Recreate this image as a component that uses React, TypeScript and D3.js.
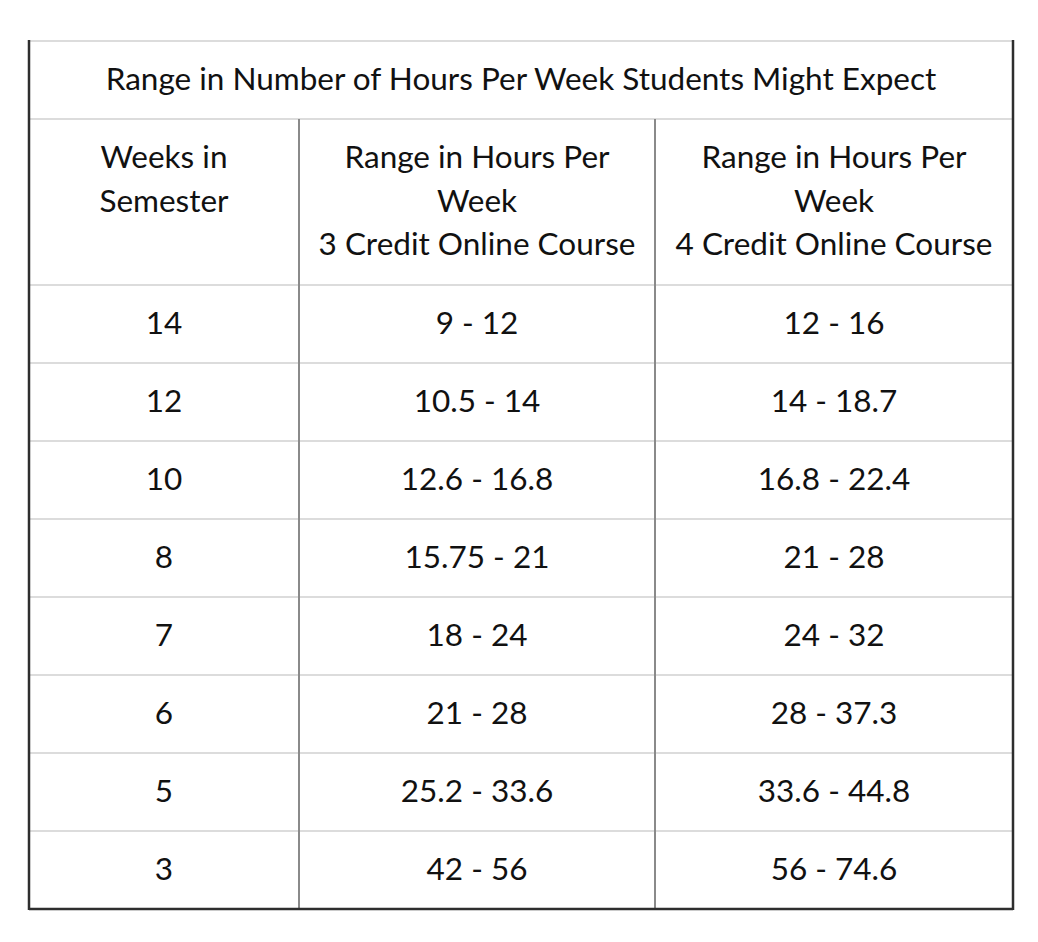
import React from "react";
import * as d3 from "d3";

const title = "Range in Number of Hours Per Week Students Might Expect";
const headers: string[][] = [
  ["Weeks in", "Semester"],
  ["Range in Hours Per", "Week", "3 Credit Online Course"],
  ["Range in Hours Per", "Week", "4 Credit Online Course"],
];
const weeks = ["14", "12", "10", "8", "7", "6", "5", "3"];
const range3 = ["9 - 12", "10.5 - 14", "12.6 - 16.8", "15.75 - 21", "18 - 24", "21 - 28", "25.2 - 33.6", "42 - 56"];
const range4 = ["12 - 16", "14 - 18.7", "16.8 - 22.4", "21 - 28", "24 - 32", "28 - 37.3", "33.6 - 44.8", "56 - 74.6"];

const W = 1038, H = 942;
const left = 29, right = 1013;
const top = 41, titleBottom = 119, headerBottom = 285, bottom = 909;
const colEdges = [left, 299, 655, right];
const FONT = "Lato, 'Open Sans', sans-serif";
const FS = 31.5;

export default function App() {
  const rowY = d3.scaleBand<number>().domain(d3.range(weeks.length)).range([headerBottom, bottom]);
  const colX = (i: number) => (colEdges[i] + colEdges[i + 1]) / 2;
  const cols = [weeks, range3, range4];
  const lineH = 43.5;
  const dy = -2;
  return (
    <svg width={W} height={H} style={{ position: "absolute", left: 0, top: 0, background: "#fff" }}>
      <rect x={0} y={0} width={W} height={H} fill="#fff" />
      {[top, titleBottom, headerBottom, ...weeks.slice(1).map((_, i) => rowY(i + 1)!)].map((y, i) => (
        <line key={"h" + i} x1={left} x2={right} y1={y} y2={y} stroke="#dcdcdc" strokeWidth={2} />
      ))}
      {colEdges.slice(1, 3).map((x, i) => (
        <line key={"v" + i} x1={x} x2={x} y1={titleBottom} y2={bottom} stroke="#8a8a8a" strokeWidth={2} />
      ))}
      <line x1={left} x2={left} y1={top - 1} y2={bottom + 1} stroke="#2e2e2e" strokeWidth={2.5} />
      <line x1={right} x2={right} y1={top - 1} y2={bottom + 1} stroke="#2e2e2e" strokeWidth={2.5} />
      <line x1={left} x2={right} y1={bottom} y2={bottom} stroke="#2e2e2e" strokeWidth={2.5} />
      <g fontFamily={FONT} fontSize={FS} fill="#111" textAnchor="middle">
        <text x={(left + right) / 2} y={(top + titleBottom) / 2 + dy} dominantBaseline="central">{title}</text>
        {headers.map((lines, c) =>
          lines.map((t, k) => (
            <text key={c + "-" + k} x={colX(c)} y={158 + dy + k * lineH} dominantBaseline="central">{t}</text>
          ))
        )}
        {cols.map((col, c) =>
          col.map((t, r) => (
            <text key={"d" + c + "-" + r} x={colX(c)} y={rowY(r)! + rowY.bandwidth() / 2 + dy} dominantBaseline="central">{t}</text>
          ))
        )}
      </g>
    </svg>
  );
}
